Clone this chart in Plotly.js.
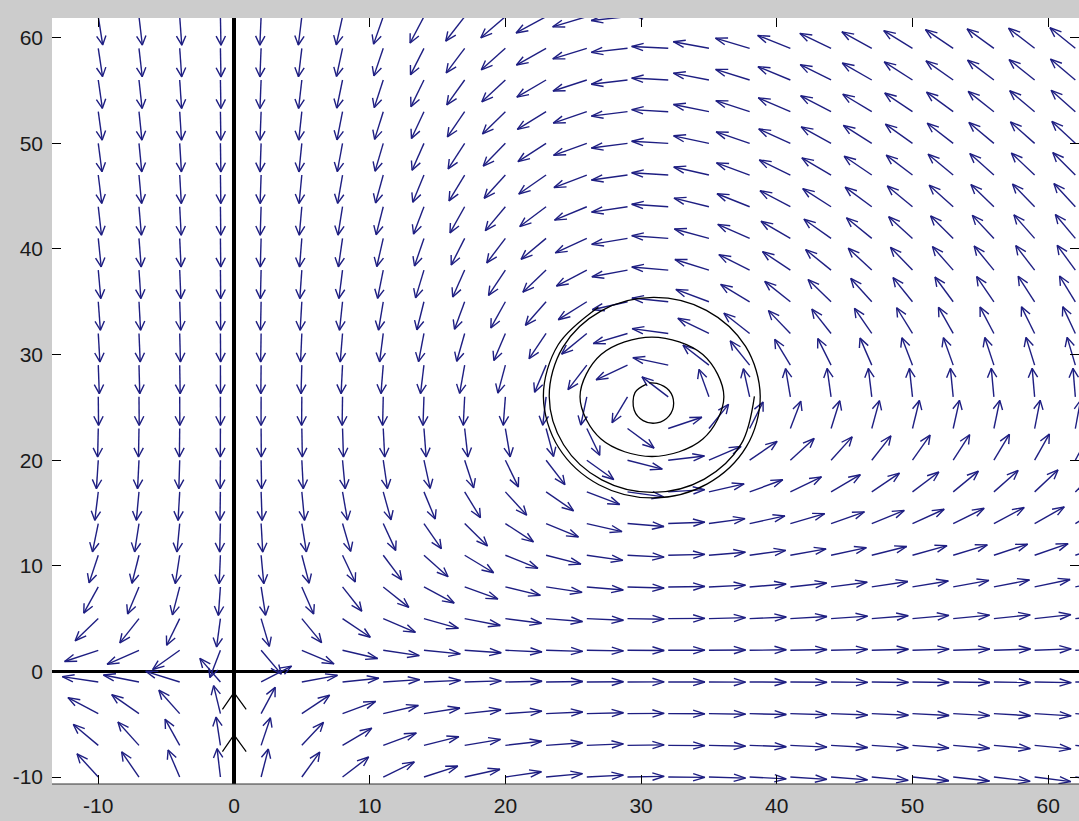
<!DOCTYPE html>
<html><head><meta charset="utf-8">
<script src="https://cdn.plot.ly/plotly-3.0.1.min.js"></script>
<style>html,body{margin:0;padding:0;background:#cccccc;}#chart{width:1079px;height:821px;}</style>
</head><body><div id="chart"></div>
<script>
// ---- data ----
// quiver grid positions (prey x, predator y)
const gridX = [-10,-7,-4,-1,2,5,8,11,14,17,20,23,26,29,32,35,38,41,44,47,50,53,56,59,62];
const gridY = [-10,-7,-4,-1,2,5,8,11,14,17,20,23,26,29,32,35,38,41,44,47,50,53,56,59,62];
// Lotka-Volterra direction field: x' = x(yEq - y), y' = r*y(x - xEq)
const preyEquilibrium = 31;
const predatorEquilibrium = 25;
const rateRatio = 1.2;
// black solution curve (outer spiral, middle loop, inner loop)
const outerX = [26.85,23.89,22.8,23.92,26.89,30.9,34.88,37.76,38.78,37.7,34.81,30.9,27.03,24.23,23.23,24.29,27.1,30.9,34.66,37.38,38.35];
const outerY = [34.49,30.93,26.05,21.2,17.68,16.43,17.76,21.28,26.05,30.77,34.19,35.41,34.12,30.69,26.05,21.46,18.13,16.95,18.21,21.54,26.05];
const middleX = [36.1,34.55,30.8,27.05,25.5,27.05,30.8,34.55,36.1];
const middleY = [26.0,30.0,31.65,30.0,26.0,22.0,20.35,22.0,26.0];
const innerX = [30.4,29.55,29.49,30.15,31.16,32.05,32.4,32.05,31.16,30.6];
const innerY = [27.2,26.4,24.75,23.75,23.53,24.18,25.4,26.62,27.27,27.32];
// black arrow heads drawn on the predator axis
const axisHeadTips = [-2.0, -6.0];
// tick labels
const xTicks = [-10,0,10,20,30,40,50,60];
const yTicks = [-10,0,10,20,30,40,50,60];

// ---- build quiver segments ----
const L = 2.7, alpha = 0.32, beta = 0.4;
const ax = [], ay = [];
for (const y of gridY) {
  for (const x of gridX) {
    const u = x * (predatorEquilibrium - y);
    const v = rateRatio * y * (x - preyEquilibrium);
    const n = Math.hypot(u, v);
    if (!n) continue;
    const du = u / n * L, dv = v / n * L;
    const tx = x + du, ty = y + dv;
    ax.push(x, tx, null);
    ay.push(y, ty, null);
    ax.push(tx - alpha * (du + beta * dv), tx, tx - alpha * (du - beta * dv), null);
    ay.push(ty - alpha * (dv - beta * du), ty, ty - alpha * (dv + beta * du), null);
  }
}
const chevX = [], chevY = [];
for (const t of axisHeadTips) {
  chevX.push(-0.85, 0, 0.9, null);
  chevY.push(t - 1.6, t, t - 1.6, null);
}

const traces = [
  {type:'scatter', mode:'lines', x:ax, y:ay, line:{color:'#1e1e82', width:1.4}, hoverinfo:'skip'},
  {type:'scatter', mode:'lines', x:outerX, y:outerY, line:{color:'#000', width:1.3, shape:'spline'}, hoverinfo:'skip'},
  {type:'scatter', mode:'lines', x:middleX, y:middleY, line:{color:'#000', width:1.3, shape:'spline'}, hoverinfo:'skip'},
  {type:'scatter', mode:'lines', x:innerX, y:innerY, line:{color:'#000', width:1.3, shape:'spline'}, hoverinfo:'skip'},
  {type:'scatter', mode:'lines', x:chevX, y:chevY, line:{color:'#000', width:1.2}, hoverinfo:'skip'}
];

const font = {family:'Liberation Sans, Arial, sans-serif', size:21, color:'#1a1a1a'};
const axisCommon = {
  ticks:'inside', ticklen:9, tickwidth:1, tickcolor:'#000', mirror:'ticks',
  showgrid:false, showline:false, zeroline:true, zerolinecolor:'#000', zerolinewidth:3.5,
  tickfont:font, fixedrange:true
};
const layout = {
  width:1079, height:821,
  margin:{l:52, r:0, t:18, b:37, pad:0},
  paper_bgcolor:'#cccccc', plot_bgcolor:'#ffffff',
  showlegend:false,
  xaxis:Object.assign({}, axisCommon, {range:[-13.41, 62.27], tickvals:xTicks, ticktext:xTicks.map(String), ticklabelstandoff:7}),
  yaxis:Object.assign({}, axisCommon, {range:[-10.66, 61.87], tickvals:yTicks, ticktext:yTicks.map(String), ticklabelstandoff:8}),
  shapes:[{type:'line', xref:'paper', yref:'paper', x0:0, x1:1, y0:0, y1:0, line:{color:'#333', width:1}}]
};
Plotly.newPlot('chart', traces, layout, {displayModeBar:false, staticPlot:true});
</script>
</body></html>
